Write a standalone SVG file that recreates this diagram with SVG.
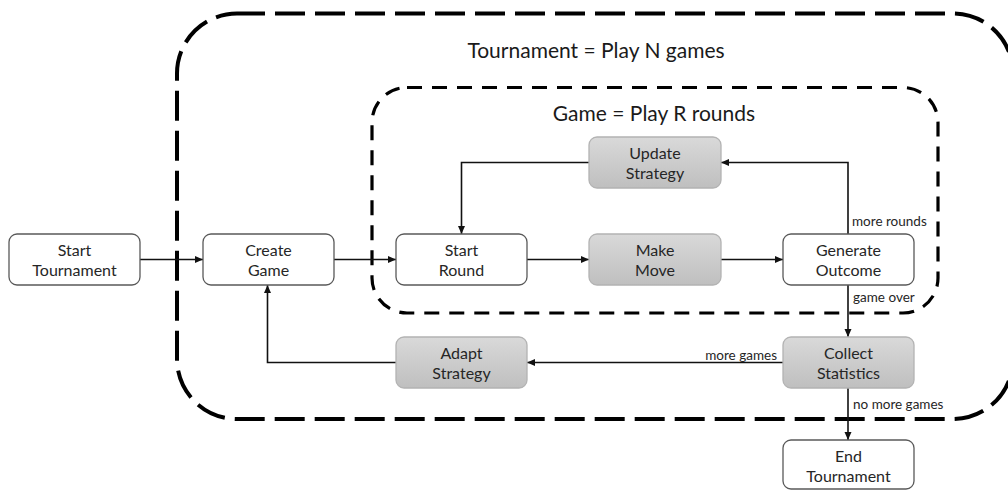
<svg xmlns="http://www.w3.org/2000/svg" width="1008" height="490" viewBox="0 0 1008 490">
<style>
.node rect.w{fill:#ffffff;stroke:#595959;stroke-width:1.3}
.node rect.g{fill:url(#gr);stroke:#b3b3b3;stroke-width:1.3}
.node text,.lbl,.title{font-family:Lato,"Open Sans","Liberation Sans",sans-serif;fill:#262626}
.node text{font-size:16px;text-anchor:middle}
.title{font-size:21px;text-anchor:middle;fill:#1a1a1a}
.lbl{font-size:13.5px}
.conn path{fill:none;stroke:#111;stroke-width:1.6;marker-end:url(#ah)}
.outer{fill:none;stroke:#000;stroke-width:4;stroke-dasharray:30 10}
.inner{fill:none;stroke:#000;stroke-width:3.2;stroke-dasharray:15 10}
</style>
<defs>
<linearGradient id="gr" x1="0" y1="0" x2="0" y2="1">
<stop offset="0" stop-color="#d9d9d9"/>
<stop offset="1" stop-color="#bfbfbf"/>
</linearGradient>
<marker id="ah" markerUnits="userSpaceOnUse" markerWidth="9" markerHeight="8" refX="8" refY="3.5" orient="auto">
<path d="M0,0 L8,3.5 L0,7 z" fill="#111"/>
</marker>
</defs>
<rect width="1008" height="490" fill="#ffffff"/>
<g id="tournament-frame">
<rect class="outer" x="177" y="13.5" width="836" height="405.5" rx="60" ry="60" stroke-dashoffset="2"/>
<text class="title" x="596" y="58">Tournament = Play N games</text>
</g>
<g id="game-frame">
<rect class="inner" x="372" y="87.5" width="566" height="225.5" rx="35" ry="35"/>
<text class="title" x="654" y="121">Game = Play R rounds</text>
</g>
<g class="conn" id="connectors">
<path d="M140,259.5 H203"/>
<path d="M334,259.5 H396"/>
<path d="M527,259.5 H589"/>
<path d="M721,259.5 H783"/>
<path d="M848,234 V162.5 H721"/>
<path d="M589,162.5 H461.5 V234"/>
<path d="M848,285 V337"/>
<path d="M783,362.5 H527"/>
<path d="M396,362.5 H267.5 V285"/>
<path d="M848,388 V440"/>
<text class="lbl" x="852" y="226">more rounds</text>
<text class="lbl" x="853" y="302">game over</text>
<text class="lbl" x="777" y="360" text-anchor="end">more games</text>
<text class="lbl" x="853" y="409">no more games</text>
</g>
<g class="node" id="start-tournament"><rect class="w" x="9" y="234" width="131" height="51" rx="8"/><text x="74.5" y="256">Start</text><text x="74.5" y="276">Tournament</text></g>
<g class="node" id="create-game"><rect class="w" x="203" y="234" width="131" height="51" rx="8"/><text x="268.5" y="256">Create</text><text x="268.5" y="276">Game</text></g>
<g class="node" id="start-round"><rect class="w" x="396" y="234" width="131" height="51" rx="8"/><text x="461.5" y="256">Start</text><text x="461.5" y="276">Round</text></g>
<g class="node" id="make-move"><rect class="g" x="589" y="234" width="132" height="51" rx="8"/><text x="655" y="256">Make</text><text x="655" y="276">Move</text></g>
<g class="node" id="generate-outcome"><rect class="w" x="783" y="234" width="131" height="51" rx="8"/><text x="848.5" y="256">Generate</text><text x="848.5" y="276">Outcome</text></g>
<g class="node" id="update-strategy"><rect class="g" x="589" y="137" width="132" height="51" rx="8"/><text x="655" y="159">Update</text><text x="655" y="179">Strategy</text></g>
<g class="node" id="adapt-strategy"><rect class="g" x="396" y="337" width="131" height="51" rx="8"/><text x="461.5" y="359">Adapt</text><text x="461.5" y="379">Strategy</text></g>
<g class="node" id="collect-statistics"><rect class="g" x="783" y="337" width="131" height="51" rx="8"/><text x="848.5" y="359">Collect</text><text x="848.5" y="379">Statistics</text></g>
<g class="node" id="end-tournament"><rect class="w" x="783" y="440" width="131" height="49" rx="8"/><text x="848.5" y="462">End</text><text x="848.5" y="482">Tournament</text></g>
</svg>
